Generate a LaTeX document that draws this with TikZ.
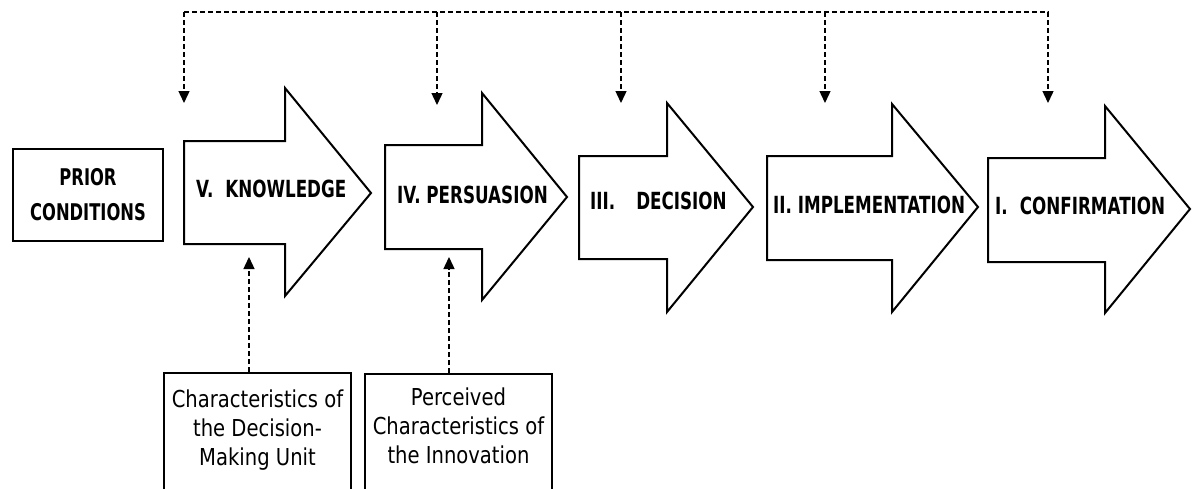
\documentclass[tikz,border=0pt]{standalone}
\usepackage{fontspec}
\usetikzlibrary{arrows.meta}
\newfontfamily\stagefont[FakeStretch=0.71]{DejaVu Sans}
\newfontfamily\notefont[FakeStretch=0.84]{DejaVu Sans}
\begin{document}
\begin{tikzpicture}[x=1pt,y=-1pt,
  outline/.style={draw=black,line width=2pt,line join=miter},
  stagetext/.style={anchor=base west,inner sep=0pt,font=\stagefont\bfseries\fontsize{23.6}{35}\selectfont},
  notetext/.style={anchor=base,inner sep=0pt,align=center,font=\notefont\fontsize{23.3}{29}\selectfont},
  bus/.style={line width=1.4pt,dash pattern=on 5pt off 3pt},
  feed/.style={bus,-{Triangle[length=12pt,width=11pt]}}]
\clip (0,0) rectangle (1197,488);
\fill[white] (0,0) rectangle (1197,488);

% prior conditions
\node[outline,minimum width=150pt,minimum height=92pt,inner sep=0pt,align=center,
      font=\stagefont\bfseries\fontsize{23}{35}\selectfont] (prior) at (88,195)
      {PRIOR\hspace{24pt}\\CONDITIONS};

% the five stages
\draw[outline] (184,141) -- (285,141) -- (285,88) -- (371,193) -- (285,296) -- (285,244) -- (184,244) -- cycle;
\draw[outline] (385,145) -- (482,145) -- (482,93) -- (567,197) -- (482,300) -- (482,249) -- (385,249) -- cycle;
\draw[outline] (579,156) -- (667,156) -- (667,103) -- (753,207) -- (667,312) -- (667,259) -- (579,259) -- cycle;
\draw[outline] (767,156) -- (892,156) -- (892,104) -- (978,207) -- (892,312) -- (892,260) -- (767,260) -- cycle;
\draw[outline] (988,158) -- (1105,158) -- (1105,106) -- (1190,209) -- (1105,313) -- (1105,262) -- (988,262) -- cycle;

\node[stagetext] (know) at (196,197) {V.\hspace{12pt}KNOWLEDGE};
\node[stagetext] (pers) at (397,203) {IV. PERSUASION};
\node[stagetext] (deci) at (590,209) {III.\hspace{21pt}DECISION};
\node[stagetext] (impl) at (773,213) {II. IMPLEMENTATION};
\node[stagetext] (conf) at (995,214) {I.\hspace{12pt}CONFIRMATION};

% characteristics boxes (open at the bottom edge)
\node[outline,minimum width=187pt,minimum height=160pt,anchor=north,inner sep=0pt] (dmu) at (257.5,372) {};
\node[outline,minimum width=187pt,minimum height=160pt,anchor=north,inner sep=0pt] (pci) at (458.5,373) {};
\node[notetext] (dmu-t) at (257.5,465) {Characteristics of\\the Decision-\\Making Unit};
\node[notetext] (pci-t) at (458.5,463) {Perceived\\Characteristics of\\the Innovation};

% feedback bus over the stages
\coordinate (b1) at (184,12);
\coordinate (b2) at (437,12);
\coordinate (b3) at (621,12);
\coordinate (b4) at (825,12);
\coordinate (b5) at (1048,12);
\coordinate (t1) at (184,103);
\coordinate (t2) at (437,105);
\coordinate (t3) at (621,103);
\coordinate (t4) at (825,103);
\coordinate (t5) at (1048,103);
\draw[feed] (b1) -- (b5) -- (t5);
\draw[feed] (b1) -- (t1);
\draw[feed] (b2) -- (t2);
\draw[feed] (b3) -- (t3);
\draw[feed] (b4) -- (t4);

% inputs from below
\coordinate (kin) at (249,257);
\coordinate (pin) at (449,257);
\draw[feed] (dmu.north -| kin) -- (kin);
\draw[feed] (pci.north -| pin) -- (pin);
\end{tikzpicture}
\end{document}
